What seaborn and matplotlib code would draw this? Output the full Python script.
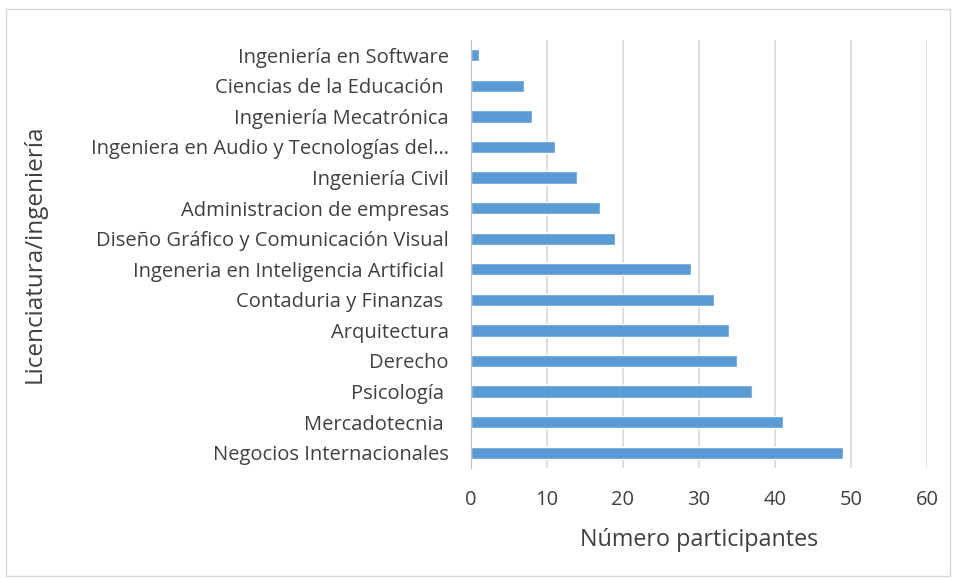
import matplotlib
matplotlib.use("Agg")
import matplotlib.pyplot as plt
import seaborn as sns
import pandas as pd

carreras = [
    "Ingeniería en Software",
    "Ciencias de la Educación ",
    "Ingeniería Mecatrónica",
    "Ingeniera en Audio y Tecnologías del…",
    "Ingeniería Civil",
    "Administracion de empresas",
    "Diseño Gráfico y Comunicación Visual",
    "Ingeneria en Inteligencia Artificial ",
    "Contaduria y Finanzas ",
    "Arquitectura",
    "Derecho",
    "Psicología ",
    "Mercadotecnia ",
    "Negocios Internacionales",
]
participantes = [1, 7, 8, 11, 14, 17, 19, 29, 32, 34, 35, 37, 41, 49]
x_ticks = [0, 10, 20, 30, 40, 50, 60]

df = pd.DataFrame({"carrera": carreras, "n": participantes})

sns.set_style("white")
plt.rcParams["font.family"] = ["Open Sans", "DejaVu Sans"]

fig = plt.figure(figsize=(9.54, 5.79), dpi=100)
ax = fig.add_axes([0.4937, 0.1917, 0.478, 0.7393])

sns.barplot(data=df, y="carrera", x="n", order=carreras, color="#5B9BD5",
            width=0.4, saturation=1, ax=ax)

ax.set_xlim(0, 60)
ax.set_ylim(13.5, -0.5)
ax.set_xticks(x_ticks)
ax.xaxis.grid(True, color="#D9D9D9", linewidth=1.2)
ax.set_axisbelow(True)
for s in ["top", "right", "bottom"]:
    ax.spines[s].set_visible(False)
ax.spines["left"].set_color("#BFBFBF")
ax.tick_params(axis="both", length=0, labelsize=14.5, colors="#404040")
ax.tick_params(axis="y", pad=16)
ax.tick_params(axis="x", pad=16)

ax.set_xlabel("Número participantes", fontsize=16.8, color="#404040")
ax.xaxis.set_label_coords(0.5, -0.14)
ax.set_ylabel("Licenciatura/ingeniería", fontsize=17.5, color="#404040")
ax.yaxis.set_label_coords(-0.93, 0.5)

border = plt.Rectangle((0.006, 0.005), 0.99, 0.98, transform=fig.transFigure,
                       fill=False, edgecolor="#D9D9D9", linewidth=1)
fig.patches.append(border)

fig.savefig("out.png", dpi=100)
